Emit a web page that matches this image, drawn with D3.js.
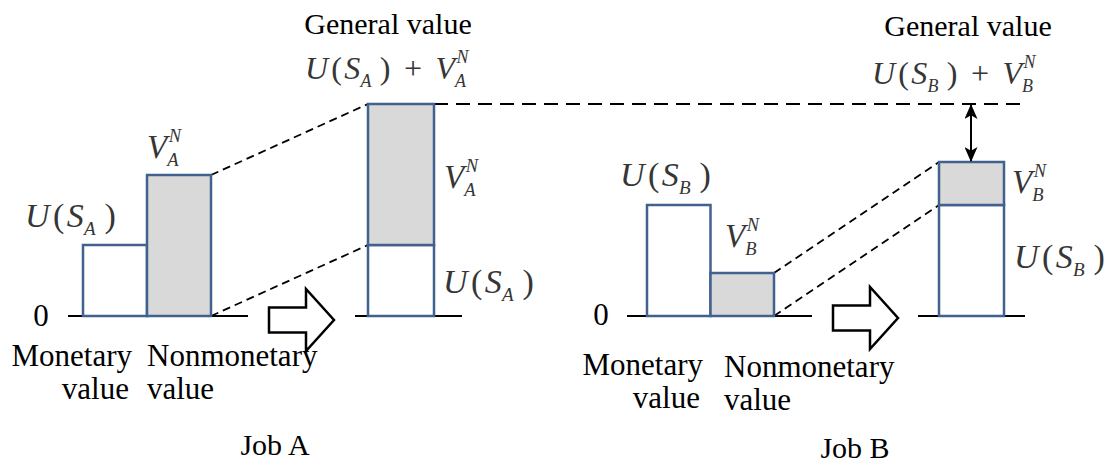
<!DOCTYPE html>
<html>
<head>
<meta charset="utf-8">
<script src="https://cdn.jsdelivr.net/npm/d3@7"></script>
<style>
    body { margin: 0; background: #fff; }
    svg text { font-family: "Liberation Serif", "Times New Roman", serif; }
</style>
</head>
<body>
<script>
(function(){

    //values (height above the zero line)
    var jobNames = ["Job A", "Job B"];
    var jobKeys = ["A", "B"];
    var monetaryValues = [71, 111];      //U(S)
    var nonmonetaryValues = [141, 43];   //V^N
    var barLabels = [["Monetary", "value"], ["Nonmonetary", "value"]];
    var generalLabel = "General value";
    var zeroLabel = "0";

    //frame
    var width = 1117,
        height = 467,
        baseY = 316;

    var barStroke = "#41618f",
        barGray = "#d9d9d9",
        mathColor = "#363636";

    //one unit = one pixel above the zero line
    var yScale = d3.scaleLinear()
        .domain([0, 250])
        .range([baseY, baseY - 250]);

    //panel layout (positions only, no values)
    var panels = [
        { x0: 83, bw: 64, stackX: 368, stackW: 66,
          axis: [68, 248], axis2: [355, 462], zero: [41, 326], arrow: [269, 320],
          monX: 132, monY: 366, nonX: 147, nonY: 366, job: [275, 455],
          gen: [388, 34], topMath: [305, 79],
          uLeft: [25, 227], vLeft: [147, 158], vRight: [444, 188], uRight: [443, 293] },
        { x0: 647, bw: 63.5, stackX: 939, stackW: 65,
          axis: [627, 812], axis2: [918, 1025], zero: [601, 325], arrow: [833, 318],
          monX: 703, monY: 375, nonX: 724, nonY: 377, job: [855, 458],
          gen: [968, 36], topMath: [872, 84],
          uLeft: [620, 186], vLeft: [725, 247], vRight: [1012, 193], uRight: [1014, 268] }
    ];

    var svg = d3.select("body")
        .append("svg")
        .attr("width", width)
        .attr("height", height);

    //arrowhead for the double arrow
    svg.append("defs").append("marker")
        .attr("id", "head")
        .attr("viewBox", "0 -7 16 14")
        .attr("refX", 15)
        .attr("refY", 0)
        .attr("markerUnits", "userSpaceOnUse")
        .attr("markerWidth", 15)
        .attr("markerHeight", 13)
        .attr("orient", "auto-start-reverse")
        .append("path")
        .attr("d", "M0,-7L16,0L0,7L4,0Z")
        .attr("fill", "#000");

    //italic formula in one text element, sub/superscripts as tspans
    function mathLabel(x, y, tokens, size){
        var t = svg.append("text")
            .attr("class", "math")
            .attr("x", x)
            .attr("y", y)
            .attr("font-size", size)
            .attr("fill", mathColor);
        var pen = 0, off = 0, pending = 0;
        tokens.forEach(function(tk){
            var m = t.append("tspan")
                .attr("dx", pending)
                .attr("dy", -off)
                .attr("font-style", tk.up ? "normal" : "italic")
                .text(tk.s);
            off = 0;
            pen += pending;
            var start = pen;
            var w = m.node().getComputedTextLength();
            pen += w;
            var reach = w;
            if (tk.sub){
                var sdx = (tk.subDx || 0) * size;
                var s = t.append("tspan")
                    .attr("dx", sdx)
                    .attr("dy", size * 0.24)
                    .attr("font-size", size * 0.56)
                    .attr("font-style", "italic")
                    .text(tk.sub);
                off = size * 0.24;
                var sw = s.node().getComputedTextLength();
                pen += sdx + sw;
                reach = Math.max(reach, pen - start);
            }
            if (tk.sup){
                var target = start + w + (tk.supDx || 0) * size;
                var p = t.append("tspan")
                    .attr("dx", target - pen)
                    .attr("dy", -size * 0.5 - off)
                    .attr("font-size", size * 0.56)
                    .attr("font-style", "italic")
                    .text(tk.sup);
                off = -size * 0.5;
                pen = target + p.node().getComputedTextLength();
                reach = Math.max(reach, pen - start);
            }
            var gap = (tk.gap !== undefined ? tk.gap : 0.12) * size;
            pending = start + reach + gap - pen;
        });
        return t;
    }

    function uTokens(k){
        return [{ s: "U", gap: 0.1 }, { s: "(", up: true, gap: 0.07 }, { s: "S", sub: k, subDx: 0.01, gap: 0.26 }, { s: ")", up: true }];
    }
    function vTokens(k){
        return [{ s: "V", sub: k, subDx: 0.005, sup: "N", supDx: 0.05 }];
    }

    //block arrow between the two views
    function blockArrow(x, cy){
        var p = d3.path();
        p.moveTo(x, cy - 12.5);
        p.lineTo(x + 37, cy - 12.5);
        p.lineTo(x + 37, cy - 31);
        p.lineTo(x + 65, cy);
        p.lineTo(x + 37, cy + 31);
        p.lineTo(x + 37, cy + 12.5);
        p.lineTo(x, cy + 12.5);
        p.closePath();
        svg.append("path")
            .attr("d", p.toString())
            .attr("fill", "#fff")
            .attr("stroke", "#000")
            .attr("stroke-width", 2.5)
            .attr("stroke-linejoin", "miter");
    }

    var topA = yScale(monetaryValues[0] + nonmonetaryValues[0]);

    //long dashed reference line from Job A's total across to Job B
    svg.append("line")
        .attr("x1", panels[0].stackX + panels[0].stackW)
        .attr("x2", 1022)
        .attr("y1", topA)
        .attr("y2", topA)
        .attr("stroke", "#000")
        .attr("stroke-width", 2)
        .attr("stroke-dasharray", "14,8");

    panels.forEach(function(pn, i){
        var mon = monetaryValues[i],
            non = nonmonetaryValues[i],
            k = jobKeys[i];

        var xBand = d3.scaleBand()
            .domain(["mon", "non"])
            .range([pn.x0, pn.x0 + pn.bw * 2])
            .padding(0);

        //zero lines
        [pn.axis, pn.axis2].forEach(function(a){
            svg.append("line")
                .attr("x1", a[0]).attr("x2", a[1])
                .attr("y1", baseY).attr("y2", baseY)
                .attr("stroke", "#000")
                .attr("stroke-width", 2);
        });

        svg.append("text")
            .attr("x", pn.zero[0])
            .attr("y", pn.zero[1])
            .attr("text-anchor", "middle")
            .attr("font-size", 31)
            .text(zeroLabel);

        //dashed connectors
        var nonRight = xBand("non") + xBand.bandwidth();
        var conn = [
            [nonRight, yScale(non), pn.stackX, yScale(mon + non)],
            [nonRight, yScale(0), pn.stackX, yScale(mon)]
        ];
        conn.forEach(function(c){
            svg.append("line")
                .attr("x1", c[0]).attr("y1", c[1])
                .attr("x2", c[2]).attr("y2", c[3])
                .attr("stroke", "#000")
                .attr("stroke-width", 1.8)
                .attr("stroke-dasharray", "8,5");
        });

        //separate bars
        svg.selectAll(".bar" + k)
            .data([{ key: "mon", v: mon, fill: "#fff" }, { key: "non", v: non, fill: barGray }])
            .enter()
            .append("rect")
            .attr("class", "bar" + k)
            .attr("x", function(d){ return xBand(d.key); })
            .attr("width", xBand.bandwidth())
            .attr("y", function(d){ return yScale(d.v); })
            .attr("height", function(d){ return yScale(0) - yScale(d.v); })
            .attr("fill", function(d){ return d.fill; })
            .attr("stroke", barStroke)
            .attr("stroke-width", 2.5);

        //stacked general value bar
        var stack = [{ y0: 0, y1: mon, fill: "#fff" }, { y0: mon, y1: mon + non, fill: barGray }];
        svg.selectAll(".stack" + k)
            .data(stack)
            .enter()
            .append("rect")
            .attr("class", "stack" + k)
            .attr("x", pn.stackX)
            .attr("width", pn.stackW)
            .attr("y", function(d){ return yScale(d.y1); })
            .attr("height", function(d){ return yScale(d.y0) - yScale(d.y1); })
            .attr("fill", function(d){ return d.fill; })
            .attr("stroke", barStroke)
            .attr("stroke-width", 2.5);

        blockArrow(pn.arrow[0], pn.arrow[1]);

        //category labels
        barLabels[0].forEach(function(s, j){
            svg.append("text")
                .attr("x", pn.monX - j * 3)
                .attr("y", pn.monY + j * 33)
                .attr("text-anchor", "end")
                .attr("font-size", 31)
                .text(s);
        });
        barLabels[1].forEach(function(s, j){
            svg.append("text")
                .attr("x", pn.nonX)
                .attr("y", pn.nonY + j * 33)
                .attr("font-size", 31)
                .text(s);
        });

        svg.append("text")
            .attr("x", pn.job[0])
            .attr("y", pn.job[1])
            .attr("text-anchor", "middle")
            .attr("font-size", 30)
            .text(jobNames[i]);

        svg.append("text")
            .attr("x", pn.gen[0])
            .attr("y", pn.gen[1])
            .attr("text-anchor", "middle")
            .attr("font-size", 30)
            .text(generalLabel);

        //formula labels
        mathLabel(pn.uLeft[0], pn.uLeft[1], uTokens(k), 34);
        mathLabel(pn.vLeft[0], pn.vLeft[1], vTokens(k), 33);
        mathLabel(pn.vRight[0], pn.vRight[1], vTokens(k), 33);
        mathLabel(pn.uRight[0], pn.uRight[1], uTokens(k), 34);

        var top = uTokens(k);
        top[3].gap = 0.42;
        top.push({ s: "+", up: true, gap: 0.42 });
        top = top.concat(vTokens(k));
        mathLabel(pn.topMath[0], pn.topMath[1], top, 32);
    });

    //gap between the two totals
    var pB = panels[1];
    svg.append("line")
        .attr("x1", pB.stackX + pB.stackW / 2 - 0.5)
        .attr("x2", pB.stackX + pB.stackW / 2 - 0.5)
        .attr("y1", topA + 1)
        .attr("y2", yScale(monetaryValues[1] + nonmonetaryValues[1]) - 1)
        .attr("stroke", "#000")
        .attr("stroke-width", 2)
        .attr("marker-start", "url(#head)")
        .attr("marker-end", "url(#head)");

})();
</script>
</body>
</html>
